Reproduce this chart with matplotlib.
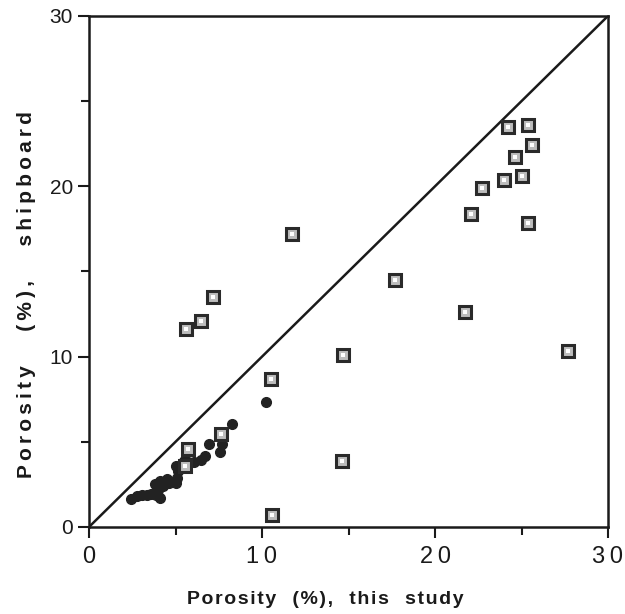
import numpy as np
from matplotlib import pyplot as plt

# filled dots
dots_x = [2.4, 2.75, 3.05, 3.35, 3.6, 3.9, 4.1, 3.8, 4.0, 4.1, 4.3, 4.5, 4.6, 5.0,
          5.1, 5.15, 5.0, 5.3, 5.5, 5.7, 6.05, 6.5, 6.7, 6.95, 7.55, 7.7, 8.25, 10.25]
dots_y = [1.65, 1.8, 1.85, 1.9, 1.95, 1.85, 1.7, 2.5, 2.2, 2.7, 2.4, 2.8, 2.6, 2.6,
          2.9, 3.3, 3.6, 3.5, 3.9, 3.8, 3.8, 3.95, 4.15, 4.9, 4.4, 4.9, 6.05, 7.35]

# open squares
sq_x = [24.2, 25.35, 25.6, 24.6, 25.0, 24.0, 22.7, 22.1, 25.35, 17.7, 21.75, 27.7,
        11.73, 7.17, 6.45, 5.6, 14.7, 10.5, 14.6, 10.6, 5.7, 7.65, 5.55]
sq_y = [23.5, 23.6, 22.4, 21.7, 20.6, 20.35, 19.9, 18.4, 17.85, 14.5, 12.6, 10.35,
        17.2, 13.5, 12.1, 11.6, 10.1, 8.7, 3.9, 0.7, 4.55, 5.45, 3.6]

xticks = [0, 10, 20, 30]
yticks = [0, 10, 20, 30]
xlabel_words = ["Porosity", "(%),", "this", "study"]
ylabel_words = ["Porosity", "(%),", "shipboard"]

plt.rcParams['font.family'] = ['Liberation Sans', 'DejaVu Sans']


def spaced(words, gap, sep="\u200a"):
    # wide letter spacing like the old typewriter-ish labels
    return gap.join(sep.join(w) for w in words)


fig = plt.figure(figsize=(6.25, 6.14), dpi=100)
ax = fig.add_axes([0.1424, 0.1417, 0.8304, 0.8323])

ax.plot([0, 30], [0, 30], color='#1a1a1a', lw=1.8)
ax.plot(dots_x, dots_y, 'o', color='#222222', ms=7, mec='#222222')
ax.plot(sq_x, sq_y, 's', ms=9, mfc='#bdbdbd', mec='#2a2a2a', mew=2.2)
ax.plot(sq_x, sq_y, 's', ms=2.5, mfc='white', mec='white', mew=0)

ax.set_xlim([0, 30])
ax.set_ylim([0, 30])
ax.set_xticks(xticks)
ax.set_yticks(yticks)
ax.set_xticklabels(["\u2009".join(str(t)) for t in xticks], fontsize=17)
ax.set_yticklabels([str(t) for t in yticks], fontsize=15)
ax.set_xticks([5, 15, 25], minor=True)
ax.set_yticks([5, 15, 25], minor=True)
ax.tick_params(which='both', direction='out', width=1.5, colors='#1a1a1a')
ax.tick_params(which='major', length=8)
ax.tick_params(which='minor', length=6)
ax.tick_params(axis='x', pad=6)
for s in ax.spines.values():
    s.set_linewidth(1.8)
    s.set_color('#1a1a1a')

fig.text(0.52, 0.024, spaced(xlabel_words, "   "), fontsize=14, fontweight='bold',
         ha='center', va='center', color='#1a1a1a')
fig.text(0.042, 0.52, spaced(ylabel_words, "      ", "\u2009"), fontsize=15, fontweight='bold',
         ha='center', va='center', rotation=90, color='#1a1a1a')

plt.savefig("out.png", dpi=100)
